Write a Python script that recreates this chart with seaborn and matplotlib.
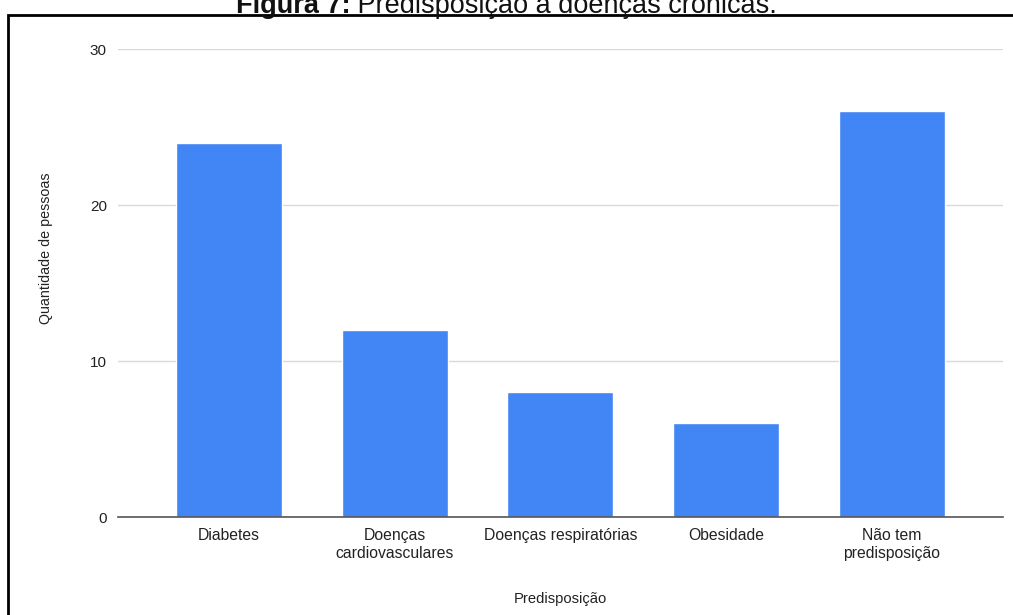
import matplotlib
matplotlib.use("Agg")
import matplotlib.pyplot as plt
import seaborn as sns
import pandas as pd
from matplotlib.patches import Rectangle

categories = ["Diabetes", "Doenças\ncardiovasculares", "Doenças respiratórias",
              "Obesidade", "Não tem\npredisposição"]
values = [24, 12, 8, 6, 26]
y_ticks = [0, 10, 20, 30]
title_bold = "Figura 7:"
title_rest = " Predisposição a doenças crônicas."

df = pd.DataFrame({"Predisposição": categories, "Quantidade de pessoas": values})

sns.set_theme(style="white")
plt.rcParams["font.family"] = ["Liberation Sans", "DejaVu Sans"]

fig = plt.figure(figsize=(10.13, 6.15), dpi=100)
fig.patch.set_facecolor("white")
ax = fig.add_axes([0.1165, 0.1593, 0.8735, 0.761])

sns.barplot(data=df, x="Predisposição", y="Quantidade de pessoas",
            color="#4285F4", saturation=1, width=0.64, ax=ax, zorder=3)

ax.set_ylim(0, 30)
ax.set_xlim(-0.67, 4.67)
ax.set_yticks(y_ticks)
ax.yaxis.grid(True, color="#d9d9d9", linewidth=1, zorder=0)
ax.set_axisbelow(True)
for side in ["top", "right", "left"]:
    ax.spines[side].set_visible(False)
ax.spines["bottom"].set_color("#555555")
ax.spines["bottom"].set_linewidth(1.2)
ax.spines["bottom"].set_zorder(4)

ax.tick_params(axis="both", length=0, colors="#222222")
ax.tick_params(axis="x", labelsize=11.3, pad=8)
ax.tick_params(axis="y", labelsize=11, pad=8)
ax.set_xlabel("Predisposição", fontsize=10.6, color="#222222")
ax.set_ylabel("Quantidade de pessoas", fontsize=10.3, color="#222222")
ax.xaxis.set_label_coords(0.5, -0.160)
ax.yaxis.set_label_coords(-0.0734, 0.575)

# frame around the figure
fig.add_artist(Rectangle((8 / 1013, -0.05), 1.1, 1 - 15 / 615 + 0.05,
                         transform=fig.transFigure, fill=False,
                         edgecolor="black", linewidth=2))

# caption: bold label followed by regular text, centred as one line
ty = 1 - 13 / 615
t1 = fig.text(0, ty, title_bold, ha="left", va="baseline",
              fontsize=19.5, fontweight="bold", color="#111111")
t2 = fig.text(0, ty, title_rest, ha="left", va="baseline",
              fontsize=19.5, color="#111111")
renderer = fig.canvas.get_renderer()
w1 = t1.get_window_extent(renderer).width / fig.bbox.width
w2 = t2.get_window_extent(renderer).width / fig.bbox.width
x0 = 0.5 - (w1 + w2) / 2
t1.set_x(x0)
t2.set_x(x0 + w1)

fig.savefig("out.png", dpi=100, facecolor="white")
